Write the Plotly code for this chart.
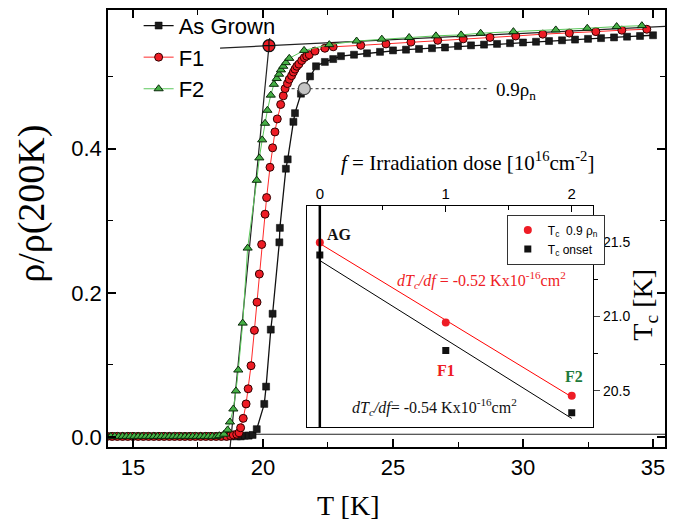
import numpy as np
import plotly.graph_objects as go

# ---------------- main panel data: rho/rho(200K) vs T ----------------
ag_T = [14.0, 14.25, 14.5, 14.75, 15.0, 15.25, 15.5, 15.75, 16.0, 16.25, 16.5, 16.75,
        17.0, 17.25, 17.5, 17.75, 18.0, 18.25, 18.5, 18.75, 19.0, 19.15, 19.3, 19.45,
        19.6, 19.76, 20.05, 20.12, 20.30, 20.37, 20.63, 20.65, 20.88, 20.95, 21.17, 21.23,
        21.46, 21.81, 22.04, 22.38, 22.70,
        23.0, 23.5, 24.0, 24.5, 25.0, 25.5, 26.0, 26.5, 27.0, 27.5, 28.0, 28.5, 29.0,
        29.5, 30.0, 30.5, 31.0, 31.5, 32.0, 32.5, 33.0, 33.5, 34.0, 34.5, 35.0]
ag_rho = [0.001, 0.001, 0.001, 0.001, 0.001, 0.001, 0.001, 0.001, 0.001, 0.001, 0.001, 0.001,
          0.001, 0.001, 0.001, 0.001, 0.001, 0.001, 0.001, 0.001, 0.001, 0.001, 0.002, 0.002,
          0.003, 0.011, 0.046, 0.070, 0.149, 0.171, 0.270, 0.290, 0.372, 0.385, 0.437, 0.449,
          0.476, 0.500, 0.514, 0.520, 0.524,
          0.528, 0.530, 0.532, 0.534, 0.536, 0.537, 0.538, 0.539, 0.540, 0.542, 0.543, 0.544,
          0.545, 0.546, 0.547, 0.548, 0.549, 0.550, 0.551, 0.552, 0.553, 0.554, 0.555,
          0.556, 0.557]

f1_T = [14.0, 14.2, 14.4, 14.6, 14.8, 15.0, 15.2, 15.4, 15.6, 15.8, 16.0, 16.2, 16.4,
        16.6, 16.8, 17.0, 17.2, 17.4, 17.6, 17.8, 18.0, 18.2, 18.4, 18.6, 18.75, 18.86,
        18.99, 19.08, 19.14, 19.24, 19.35, 19.43, 19.54, 19.67, 19.77, 19.86, 19.95, 20.08,
        20.14, 20.27, 20.37, 20.46, 20.55, 20.68, 20.78, 20.85, 20.94, 21.01, 21.10, 21.17,
        21.23, 21.30, 21.38, 21.49, 21.59, 21.68, 21.78, 22.00, 22.38, 22.70,
        23.76, 24.73, 25.69, 26.72, 27.70, 28.73, 29.72, 30.76, 31.78, 32.80, 33.80, 34.76]
f1_rho = [0.001, 0.001, 0.001, 0.001, 0.001, 0.001, 0.001, 0.001, 0.001, 0.001, 0.001,
          0.001, 0.001, 0.001, 0.001, 0.001, 0.001, 0.001, 0.001, 0.001, 0.001, 0.001,
          0.001, 0.001, 0.002, 0.003, 0.004, 0.006, 0.013, 0.026, 0.046, 0.067, 0.099,
          0.148, 0.187, 0.226, 0.267, 0.309, 0.332, 0.374, 0.401, 0.423, 0.441, 0.461,
          0.473, 0.483, 0.490, 0.496, 0.501, 0.506, 0.510, 0.514, 0.517, 0.522, 0.526,
          0.528, 0.530, 0.535, 0.539, 0.541,
          0.543, 0.545, 0.5475, 0.550, 0.552, 0.554, 0.556, 0.5585, 0.560, 0.562, 0.564,
          0.5653]

f2_T = [14.0, 14.15, 14.3, 14.45, 14.6, 14.75, 14.9, 15.05, 15.2, 15.35, 15.5, 15.65,
        15.8, 15.95, 16.1, 16.25, 16.4, 16.55, 16.7, 16.85, 17.0, 17.15, 17.3, 17.45,
        17.6, 17.75, 17.9, 18.05, 18.2, 18.32, 18.50, 18.64, 18.73, 18.86, 18.96, 19.05,
        19.22, 19.41, 19.76, 19.86, 19.97, 20.08, 20.17, 20.30, 20.42, 20.53, 20.62,
        20.69, 20.78, 20.88, 21.01, 21.58, 22.55,
        23.60, 24.57, 25.62, 26.65, 27.62, 28.37, 29.63, 31.26, 32.47, 33.60, 34.57]
f2_rho = [0.001, 0.001, 0.001, 0.001, 0.001, 0.001, 0.001, 0.001, 0.001, 0.001, 0.001,
          0.001, 0.001, 0.001, 0.001, 0.001, 0.001, 0.001, 0.001, 0.001, 0.001, 0.001,
          0.001, 0.001, 0.001, 0.001, 0.001, 0.001, 0.001, 0.002, 0.004, 0.010, 0.021,
          0.039, 0.064, 0.093, 0.158, 0.262, 0.356, 0.387, 0.412, 0.435, 0.453, 0.474,
          0.489, 0.497, 0.503, 0.509, 0.514, 0.519, 0.525, 0.536, 0.544,
          0.549, 0.5516, 0.5539, 0.5562, 0.5575, 0.5598, 0.562, 0.5644, 0.5667, 0.569,
          0.5703]

# construction (guide) lines of the main panel
normal_fit_T = [18.35, 35.46]        # normal-state linear extrapolation
normal_fit_rho = [0.5392, 0.5693]
onset_tan_T = [18.72, 20.26]         # steepest-slope tangent
onset_tan_rho = [-0.02, 0.553]
base_T = [18.7, 35.46]               # zero-resistance baseline
base_rho = [0.004, 0.004]
onset_pt_T = [20.23]                 # intersection = Tc onset
onset_pt_rho = [0.5425]
n09_pt_T = [21.59]                   # 0.9 rho_n point
n09_pt_rho = [0.483]
n09_line_T = [21.1, 28.7]
n09_line_rho = [0.483, 0.483]

# ---------------- inset data: Tc vs irradiation dose ----------------
dose = [0, 1, 2]
tc_09 = [21.50, 20.96, 20.465]
tc_onset = [21.415, 20.77, 20.35]
dose_fit = [0, 2]

SERIF = "Liberation Serif, Times New Roman, serif"
SANS = "Liberation Sans, Arial, sans-serif"
RED = "#ee1c25"
GREEN = "#45b045"

fig = go.Figure()

# guide lines (under the data)
fig.add_trace(go.Scatter(x=normal_fit_T, y=normal_fit_rho, mode="lines",
                         line=dict(color="#222222", width=1.2), showlegend=False, hoverinfo="skip"))
fig.add_trace(go.Scatter(x=onset_tan_T, y=onset_tan_rho, mode="lines",
                         line=dict(color="#222222", width=1.2), showlegend=False, hoverinfo="skip"))
fig.add_trace(go.Scatter(x=base_T, y=base_rho, mode="lines",
                         line=dict(color="#222222", width=1.2), showlegend=False, hoverinfo="skip"))
fig.add_trace(go.Scatter(x=n09_line_T, y=n09_line_rho, mode="lines",
                         line=dict(color="#555555", width=1.2, dash="dot"), showlegend=False,
                         hoverinfo="skip"))

# curves
fig.add_trace(go.Scatter(x=ag_T, y=ag_rho, mode="lines+markers", name="As Grown",
                         line=dict(color="#111111", width=1.3),
                         marker=dict(symbol="square", size=7, color="#1a1a1a",
                                     line=dict(color="#000000", width=0.5))))
fig.add_trace(go.Scatter(x=f1_T, y=f1_rho, mode="lines+markers", name="F1",
                         line=dict(color="#ff2a2a", width=1),
                         marker=dict(symbol="circle", size=8, color=RED,
                                     line=dict(color="#300000", width=1))))
fig.add_trace(go.Scatter(x=f2_T, y=f2_rho, mode="lines+markers", name="F2",
                         line=dict(color="#5cc85c", width=1),
                         marker=dict(symbol="triangle-up", size=8, color=GREEN,
                                     line=dict(color="#0a2a0a", width=1))))

# special points
fig.add_trace(go.Scatter(x=onset_pt_T, y=onset_pt_rho, mode="markers", showlegend=False,
                         marker=dict(symbol="circle-cross", size=12, color=RED,
                                     line=dict(color="#111111", width=1.2)), hoverinfo="skip"))
fig.add_trace(go.Scatter(x=n09_pt_T, y=n09_pt_rho, mode="markers", showlegend=False,
                         marker=dict(symbol="circle", size=12, color="#c4c4c4",
                                     line=dict(color="#444444", width=1.2)), hoverinfo="skip"))

# inset traces
p09 = np.polyfit(dose, tc_09, 1)
pon = np.polyfit(dose, tc_onset, 1)
fig.add_trace(go.Scatter(x=dose_fit, y=np.polyval(p09, dose_fit), mode="lines", xaxis="x2",
                         yaxis="y2", line=dict(color="#ff0000", width=1), showlegend=False))
fig.add_trace(go.Scatter(x=dose_fit, y=np.polyval(pon, dose_fit), mode="lines", xaxis="x2",
                         yaxis="y2", line=dict(color="#000000", width=1), showlegend=False))
fig.add_trace(go.Scatter(x=dose, y=tc_09, mode="markers", xaxis="x2", yaxis="y2",
                         name="T<sub>c</sub>  0.9 ρ<sub>n</sub>", legend="legend2",
                         marker=dict(symbol="circle", size=8, color=RED)))
fig.add_trace(go.Scatter(x=dose, y=tc_onset, mode="markers", xaxis="x2", yaxis="y2",
                         name="T<sub>c</sub> onset", legend="legend2",
                         marker=dict(symbol="square", size=7, color="#111111")))

axis_common = dict(showgrid=False, zeroline=False, showline=True, linecolor="black",
                   ticks="inside", tickcolor="black")

fig.update_layout(
    width=680, height=522,
    margin=dict(l=108, r=15, t=5, b=75),
    paper_bgcolor="white", plot_bgcolor="white",
    font=dict(family=SANS, color="black"),
    xaxis=dict(**axis_common, range=[14.04, 35.46], tick0=15, dtick=5, ticklen=8,
               linewidth=1.5, tickwidth=1.5, mirror="allticks",
               minor=dict(dtick=2.5, ticklen=5, tickwidth=1.2, ticks="inside", tickcolor="black"),
               tickfont=dict(family=SANS, size=22)),
    yaxis=dict(**axis_common, range=[-0.0137, 0.592], tick0=0, dtick=0.2, tickformat=".1f",
               ticklen=8, linewidth=1.5, tickwidth=1.5, mirror="allticks",
               minor=dict(dtick=0.1, ticklen=5, tickwidth=1.2, ticks="inside", tickcolor="black"),
               tickfont=dict(family=SANS, size=22)),
    xaxis2=dict(**axis_common, domain=[0.357, 0.871], anchor="y2", side="top",
                range=[-0.103, 2.17], tick0=0, dtick=1, ticklen=6, linewidth=1.2,
                tickwidth=1.2, mirror=True,
                minor=dict(dtick=0.5, ticklen=4, ticks="inside", tickcolor="black"),
                tickfont=dict(family=SANS, size=15)),
    yaxis2=dict(showgrid=False, zeroline=False, showline=True, linecolor="black",
                domain=[0.0452, 0.552], anchor="x2", side="right",
                range=[20.253, 21.747], tick0=20.5, dtick=0.5, tickformat=".1f",
                ticks="outside", ticklen=6, linewidth=1.2, tickwidth=1.2, mirror=True,
                minor=dict(dtick=0.25, ticklen=4, ticks="outside", tickcolor="black"),
                tickfont=dict(family=SANS, size=14)),
    yaxis3=dict(showgrid=False, zeroline=False, showline=False, overlaying="y2",
                anchor="x2", side="left", range=[20.253, 21.747], tick0=20.5, dtick=0.5,
                ticks="inside", ticklen=5, tickwidth=1.2, showticklabels=False,
                minor=dict(dtick=0.25, ticklen=4, ticks="inside", tickcolor="black")),
    legend=dict(x=0.055, y=1.012, xanchor="left", yanchor="top", bgcolor="rgba(0,0,0,0)",
                font=dict(family=SANS, size=22), itemwidth=30, tracegroupgap=0),
    legend2=dict(x=0.716, y=0.532, xanchor="left", yanchor="top", bgcolor="white",
                 bordercolor="#333333", borderwidth=1, font=dict(family=SANS, size=12),
                 itemwidth=30),
    shapes=[dict(type="line", xref="x2", yref="y2 domain", x0=0, x1=0, y0=0, y1=1,
                 line=dict(color="black", width=2.5))],
    annotations=[
        dict(text="ρ/ρ(200K)", xref="paper", yref="paper", x=-0.1364, y=0.5566,
             textangle=-90, showarrow=False, font=dict(family=SERIF, size=38),
             xanchor="center", yanchor="middle"),
        dict(text="T [K]", xref="paper", yref="paper", x=0.4309, y=-0.1335, showarrow=False,
             font=dict(family=SERIF, size=28), xanchor="center", yanchor="middle"),
        dict(text="0.9ρ<sub>n</sub>", xref="x", yref="y", x=28.88, y=0.480, showarrow=False,
             font=dict(family=SERIF, size=19), xanchor="left", yanchor="middle"),
        dict(text="<i>f</i> = Irradiation dose [10<sup>16</sup>cm<sup>-2</sup>]", xref="paper",
             yref="paper", x=0.6454, y=0.6538, showarrow=False,
             font=dict(family=SERIF, size=21), xanchor="center", yanchor="middle"),
        dict(text="T<sub>c</sub> [K]", xref="paper", yref="paper", x=0.9641, y=0.3258,
             textangle=-90, showarrow=False, font=dict(family=SERIF, size=28),
             xanchor="center", yanchor="middle"),
        dict(text="<b>AG</b>", xref="x2", yref="y2", x=0.155, y=21.553, showarrow=False,
             font=dict(family=SERIF, size=16, color="#111111")),
        dict(text="<b>F1</b>", xref="x2", yref="y2", x=1.0, y=20.633, showarrow=False,
             font=dict(family=SERIF, size=16, color=RED)),
        dict(text="<b>F2</b>", xref="x2", yref="y2", x=2.02, y=20.593, showarrow=False,
             font=dict(family=SERIF, size=16, color="#1e7a3c")),
        dict(text="<i>dT<sub>c</sub>/df</i> = -0.52 Kx10<sup>-16</sup>cm<sup>2</sup>",
             xref="x2", yref="y2", x=1.284, y=21.247, showarrow=False,
             font=dict(family=SERIF, size=16, color=RED)),
        dict(text="<i>dT<sub>c</sub>/df</i>= -0.54 Kx10<sup>-16</sup>cm<sup>2</sup>",
             xref="x2", yref="y2", x=0.91, y=20.389, showarrow=False,
             font=dict(family=SERIF, size=16, color="#111111")),
    ],
)

fig.write_html("out.html")
